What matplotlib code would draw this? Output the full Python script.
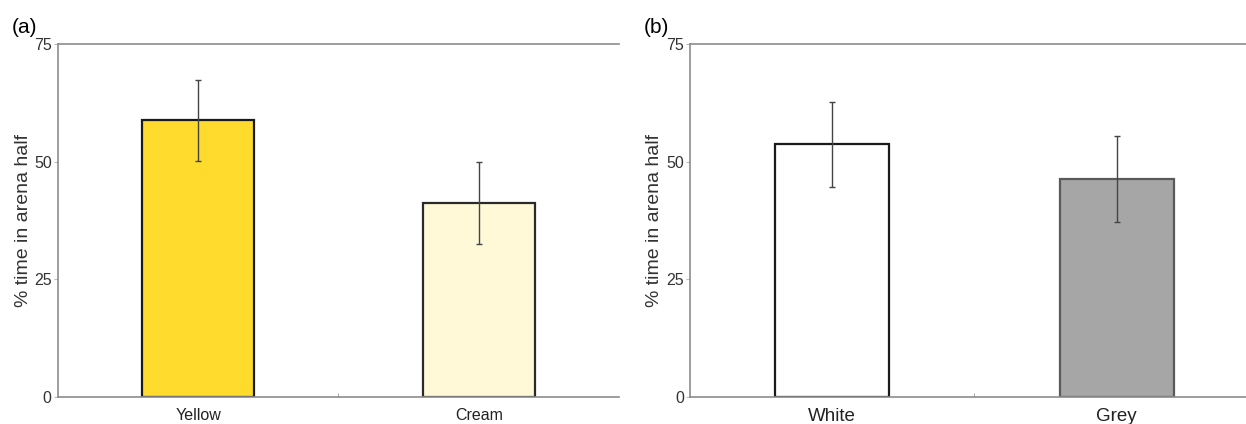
import numpy as np
import matplotlib.pyplot as plt

# --- datos ---
cats_a = ['Yellow', 'Cream']
media_a = [58.8, 41.3]
err_a = [8.6, 8.7]
colores_a = ['#FEDB2C', '#FFF9D8']
bordes_a = ['#1a1a1a', '#2a2a2a']

cats_b = ['White', 'Grey']
media_b = [53.7, 46.3]
err_b = [9.1, 9.1]
colores_b = ['#FFFFFF', '#A6A6A6']
bordes_b = ['#1a1a1a', '#5a5a5a']

yticks = [0, 25, 50, 75]

plt.rcParams['font.family'] = ['Liberation Sans', 'DejaVu Sans']

fig = plt.figure(figsize=(12.46, 4.24), dpi=100)
ax_a = fig.add_axes([0.0465, 0.0637, 0.4503, 0.8323])
ax_b = fig.add_axes([0.5538, 0.0637, 0.4566, 0.8323])


def panel(ax, cats, medias, errs, colores, bordes, etiqueta, tick_size):
    x = np.arange(len(cats))
    ax.bar(x, medias, width=0.4, color=colores, edgecolor=bordes, linewidth=1.6, zorder=2)
    ax.errorbar(x, medias, yerr=errs, fmt='none', ecolor='#444444', elinewidth=1.0,
                capsize=2.5, capthick=1.0, zorder=3)
    ax.set_xlim(-0.5, len(cats) - 0.5)
    ax.set_ylim(0, 75)
    ax.set_yticks(yticks)
    ax.set_xticks(x)
    ax.set_xticklabels(cats, fontsize=tick_size, color='#222222')
    ax.set_xticks([0.5], minor=True)
    ax.tick_params(axis='x', which='major', length=0, pad=8)
    ax.tick_params(axis='x', which='minor', length=3, direction='in', color='#999999')
    ax.tick_params(axis='y', length=3, width=0.8, color='#bbbbbb', pad=1.5,
                   labelsize=11.5, labelcolor='#333333')
    ax.set_ylabel('% time in arena half', fontsize=14, color='#333333')
    ax.yaxis.set_label_coords(-0.047, 0.5)
    for lado in ['left', 'top', 'bottom']:
        ax.spines[lado].set_color('#8c8c8c')
        ax.spines[lado].set_linewidth(1.2)
    ax.spines['right'].set_visible(False)
    ax.text(-0.082, 1.02, etiqueta, transform=ax.transAxes, fontsize=15, ha='left', va='bottom')


panel(ax_a, cats_a, media_a, err_a, colores_a, bordes_a, '(a)', 11.5)
panel(ax_b, cats_b, media_b, err_b, colores_b, bordes_b, '(b)', 13.5)

fig.savefig('out.png', dpi=100)
